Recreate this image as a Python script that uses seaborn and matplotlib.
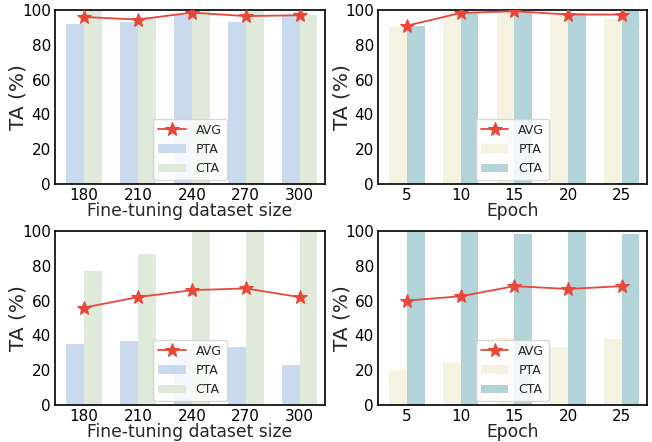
import numpy as np
import pandas as pd
import matplotlib
matplotlib.use("Agg")
import matplotlib.pyplot as plt
import seaborn as sns

# ---- data ----
sizes = ["180", "210", "240", "270", "300"]
epochs = ["5", "10", "15", "20", "25"]

pta_size_top = [92, 93, 97, 93, 97]
cta_size_top = [100, 96, 100, 100, 97]
avg_size_top = [96, 94.5, 98.5, 96.5, 97]

pta_epoch_top = [91, 99, 99.5, 97, 95]
cta_epoch_top = [91, 98, 99, 98.5, 100]
avg_epoch_top = [91, 98.3, 99.3, 97.4, 97.4]

pta_size_bot = [35, 37, 32, 33.5, 23]
cta_size_bot = [77, 87, 100, 100, 100]
avg_size_bot = [56, 62, 66, 67, 62]

pta_epoch_bot = [20, 25, 38.5, 33.5, 38]
cta_epoch_bot = [100, 100, 98.3, 100, 98.3]
avg_epoch_bot = [60, 62.5, 68.3, 66.7, 68.3]

size_colors = {"PTA": "#c9d9ee", "CTA": "#dfeada"}
epoch_colors = {"PTA": "#f6f2e2", "CTA": "#b2d4d8"}
red = "#e8473a"

sns.set_style("white")
plt.rcParams["font.family"] = ["DejaVu Sans"]
plt.rcParams["axes.edgecolor"] = "black"
plt.rcParams["axes.linewidth"] = 1.2

fig = plt.figure(figsize=(6.52, 4.42), dpi=100)
W, H = 652, 442
def pos(l, t, r, b):
    return [l / W, 1 - b / H, (r - l) / W, (b - t) / H]

panels = [
    (pos(55, 10, 325, 184), sizes, pta_size_top, cta_size_top, avg_size_top, size_colors, "Fine-tuning dataset size", -0.10),
    (pos(378, 10, 647, 184), epochs, pta_epoch_top, cta_epoch_top, avg_epoch_top, epoch_colors, "Epoch", -0.097),
    (pos(55, 231, 325, 405), sizes, pta_size_bot, cta_size_bot, avg_size_bot, size_colors, "Fine-tuning dataset size", -0.10),
    (pos(378, 231, 647, 405), epochs, pta_epoch_bot, cta_epoch_bot, avg_epoch_bot, epoch_colors, "Epoch", -0.097),
]

for rect, cats, pta, cta, avg, colors, xlabel, ylx in panels:
    ax = fig.add_axes(rect)
    df = pd.DataFrame({
        "cat": cats + cats,
        "TA": list(pta) + list(cta),
        "Metric": ["PTA"] * len(cats) + ["CTA"] * len(cats),
    })
    sns.barplot(data=df, x="cat", y="TA", hue="Metric", order=cats,
                hue_order=["PTA", "CTA"], palette=colors, width=0.66,
                saturation=1, linewidth=0, errorbar=None, ax=ax)
    sns.lineplot(x=np.arange(len(cats)), y=avg, color=red, marker="*",
                 markersize=10, markeredgecolor=red, linewidth=1.3,
                 label="AVG", ax=ax, zorder=5)
    ax.set_ylim(0, 100)
    ax.set_xlim(-0.54, 4.47)
    ax.set_yticks([0, 20, 40, 60, 80, 100])
    ax.tick_params(axis="both", labelsize=11, length=0, pad=3, colors="black")
    ax.set_ylabel("TA (%)", fontsize=14.5)
    ax.yaxis.set_label_coords(ylx, 0.5)
    ax.set_xlabel(xlabel, fontsize=12.3, labelpad=-1)
    for s in ax.spines.values():
        s.set_visible(True)
        s.set_color("black")
    handles, labels = ax.get_legend_handles_labels()
    order = [labels.index(l) for l in ["AVG", "PTA", "CTA"]]
    ax.legend([handles[i] for i in order], ["AVG", "PTA", "CTA"],
              loc="lower center", fontsize=9, frameon=True, framealpha=0.8,
              edgecolor="#d0d0d0", handlelength=2.2, borderaxespad=0.3)

fig.savefig("out.png", dpi=100)
